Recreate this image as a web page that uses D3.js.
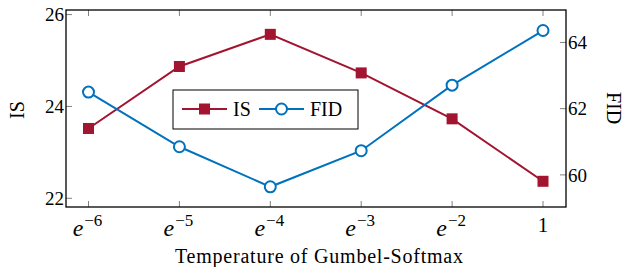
<!DOCTYPE html>
<html>
<head>
<meta charset="utf-8">
<script src="https://cdn.jsdelivr.net/npm/d3@7"></script>
<style>
  body { margin: 0; background: #fff; }
</style>
</head>
<body>
<div id="chart"></div>
<script>
// temperatures as log (base e) exponents
var temps = [-6, -5, -4, -3, -2, 0];
var isVals = [23.52, 24.87, 25.57, 24.73, 23.73, 22.37];
var fidVals = [62.50, 60.85, 59.64, 60.73, 62.71, 64.36];
var isTicks = [22, 24, 26];
var fidTicks = [60, 62, 64];
var xTickLabels = ["−6", "−5", "−4", "−3", "−2", "1"];

var W = 624, H = 267;
var box = {left: 66, right: 566, top: 10, bottom: 207};
var red = "#A2142F", blue = "#0072BD";
var serif = '"Liberation Serif"';

var svg = d3.select('#chart').append('svg').attr('width', W).attr('height', H);

function txt(sel) {
  return sel.append('text').style('font-family', serif).attr('fill', '#000');
}

var x = d3.scalePoint().domain(d3.range(temps.length)).range([88.5, 543]);
var yIS = d3.scaleLinear().domain([21.81, 26.1]).range([box.bottom, box.top]);
var yFID = d3.scaleLinear().domain([59.03, 64.98]).range([box.bottom, box.top]);

// tick marks (inward, grey)
var tickLen = 6;
var ticks = svg.append('g').attr('stroke', '#808080').attr('stroke-width', 1);
d3.range(temps.length).forEach(function(i) {
  ticks.append('line').attr('x1', x(i)).attr('x2', x(i)).attr('y1', box.bottom).attr('y2', box.bottom - tickLen);
  ticks.append('line').attr('x1', x(i)).attr('x2', x(i)).attr('y1', box.top).attr('y2', box.top + tickLen);
});
isTicks.forEach(function(t) {
  ticks.append('line').attr('x1', box.left).attr('x2', box.left + tickLen).attr('y1', yIS(t)).attr('y2', yIS(t));
});
fidTicks.forEach(function(t) {
  ticks.append('line').attr('x1', box.right).attr('x2', box.right - tickLen).attr('y1', yFID(t)).attr('y2', yFID(t));
});

// tick labels
var gl = svg.append('g');
isTicks.forEach(function(t) {
  txt(gl).attr('x', box.left - 2).attr('y', yIS(t)).attr('dy', '0.35em')
    .attr('text-anchor', 'end').style('font-size', '19px').text(t);
});
fidTicks.forEach(function(t) {
  txt(gl).attr('x', box.right + 2).attr('y', yFID(t)).attr('dy', '0.35em')
    .attr('text-anchor', 'start').style('font-size', '19px').text(t);
});
xTickLabels.forEach(function(d, i) {
  var t = txt(gl).attr('text-anchor', 'middle');
  if (temps[i] === 0) { t.attr('x', x(i)).attr('y', 232).style('font-size', '21px').text(d); return; }
  t.attr('x', x(i) - 1).attr('y', 236);
  t.append('tspan').style('font-style', 'italic').style('font-size', '24px').text('e');
  t.append('tspan').attr('dx', 1).attr('dy', -10).style('font-size', '17px').text(d);
});

// axis titles
txt(svg).attr('x', 319).attr('y', 263).attr('text-anchor', 'middle').style('font-size', '20px')
  .attr('textLength', 288).attr('lengthAdjust', 'spacing')
  .text('Temperature of Gumbel-Softmax');
txt(svg).attr('transform', 'translate(24,110) rotate(-90)').attr('text-anchor', 'middle').style('font-size', '20px').text('IS');
txt(svg).attr('transform', 'translate(607,108) rotate(90)').attr('text-anchor', 'middle').style('font-size', '20px').text('FID');

// series
var lineIS = d3.line().x(function(d, i) { return x(i); }).y(function(d) { return yIS(d); });
var lineFID = d3.line().x(function(d, i) { return x(i); }).y(function(d) { return yFID(d); });

svg.append('path').datum(isVals).attr('d', lineIS).attr('fill', 'none').attr('stroke', red).attr('stroke-width', 2);
svg.append('g').selectAll('rect').data(isVals).enter().append('rect')
  .attr('x', function(d, i) { return x(i) - 5.5; }).attr('y', function(d) { return yIS(d) - 5.5; })
  .attr('width', 11).attr('height', 11).attr('fill', red);

svg.append('path').datum(fidVals).attr('d', lineFID).attr('fill', 'none').attr('stroke', blue).attr('stroke-width', 2);
svg.append('g').selectAll('circle').data(fidVals).enter().append('circle')
  .attr('cx', function(d, i) { return x(i); }).attr('cy', function(d) { return yFID(d); })
  .attr('r', 5.5).attr('fill', '#fff').attr('stroke', blue).attr('stroke-width', 2);

// frame
svg.append('rect').attr('x', box.left).attr('y', box.top).attr('width', box.right - box.left).attr('height', box.bottom - box.top)
  .attr('fill', 'none').attr('stroke', '#000').attr('stroke-width', 1.3);

// legend
var lg = svg.append('g');
lg.append('rect').attr('x', 173).attr('y', 90).attr('width', 185).attr('height', 39)
  .attr('fill', '#fff').attr('stroke', '#000').attr('stroke-width', 1);
var ly = 109;
lg.append('line').attr('x1', 182).attr('x2', 227).attr('y1', ly).attr('y2', ly).attr('stroke', red).attr('stroke-width', 2);
lg.append('rect').attr('x', 199).attr('y', ly - 5.5).attr('width', 11).attr('height', 11).attr('fill', red);
txt(lg).attr('x', 233).attr('y', ly).attr('dy', '0.35em').style('font-size', '20px').text('IS');
lg.append('line').attr('x1', 259).attr('x2', 304).attr('y1', ly).attr('y2', ly).attr('stroke', blue).attr('stroke-width', 2);
lg.append('circle').attr('cx', 281.5).attr('cy', ly).attr('r', 5.5).attr('fill', '#fff').attr('stroke', blue).attr('stroke-width', 2);
txt(lg).attr('x', 310).attr('y', ly).attr('dy', '0.35em').style('font-size', '20px').text('FID');
</script>
</body>
</html>
